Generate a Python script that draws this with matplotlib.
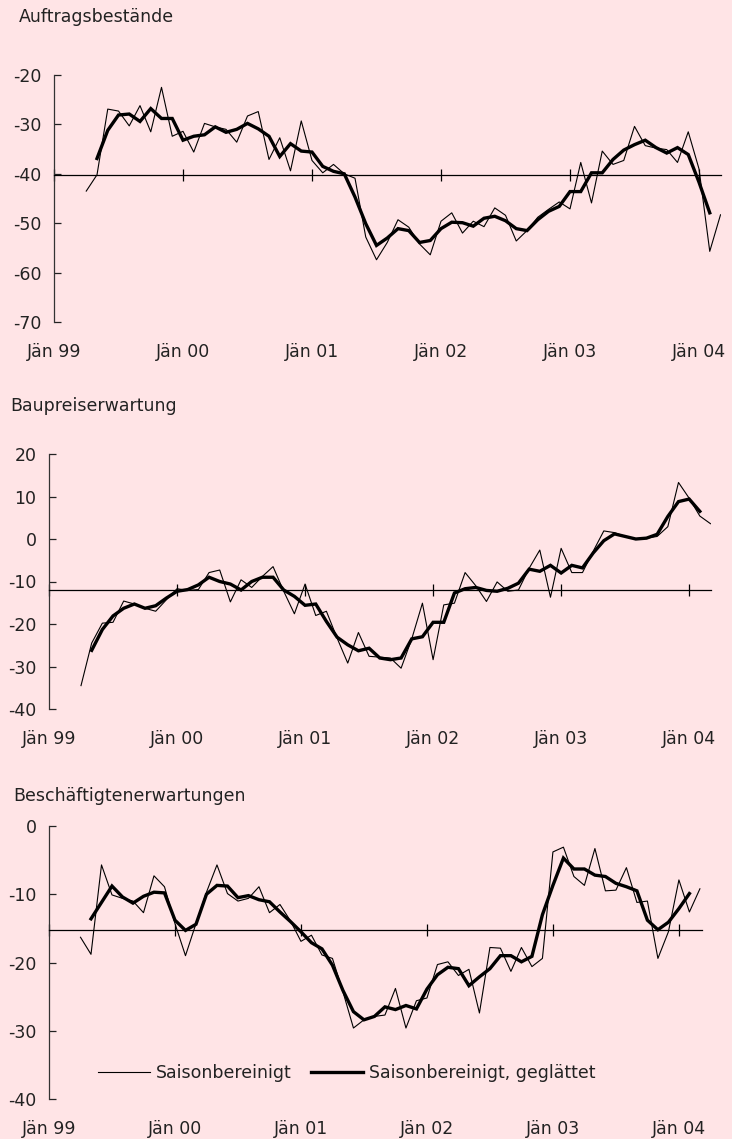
import numpy as np
import matplotlib
matplotlib.use("Agg")
from matplotlib import pyplot as plt

plt.rcParams['font.family'] = ['DejaVu Sans']
plt.rcParams['axes.unicode_minus'] = False

BG = '#FFE4E6'

# months counted from Jan 1999 (0 = Jän 99)
thin_start = 3
thick_start = 4
year_labels = ['Jän 99', 'Jän 00', 'Jän 01', 'Jän 02', 'Jän 03', 'Jän 04']

# Auftragsbestände
auftrag_sa = [-43.5, -40.2, -26.9, -27.3, -30.3, -26.2, -31.5, -22.5, -32.4, -31.4,
              -35.6, -29.8, -30.5, -31.0, -33.6, -28.3, -27.4, -37.1, -32.7, -39.4,
              -29.3, -37.3, -39.8, -38.1, -40.0, -40.9, -52.8, -57.4, -53.9, -49.3,
              -50.8, -54.2, -56.4, -49.6, -47.9, -52.0, -49.6, -50.7, -46.9, -48.4,
              -53.6, -51.5, -48.8, -47.2, -45.7, -47.1, -37.7, -45.9, -35.4, -38.1,
              -37.3, -30.4, -34.3, -34.8, -35.1, -37.7, -31.5, -39.0, -55.7, -48.3]
auftrag_sm = [-36.9, -31.2, -28.1, -27.9, -29.4, -26.8, -28.8, -28.8, -33.2, -32.4,
              -32.1, -30.5, -31.6, -31.0, -29.8, -30.9, -32.4, -36.5, -33.9, -35.4,
              -35.6, -38.5, -39.5, -40.0, -44.7, -50.1, -54.5, -53.0, -51.1, -51.5,
              -53.9, -53.5, -51.1, -49.8, -49.9, -50.6, -49.0, -48.6, -49.5, -51.1,
              -51.5, -49.3, -47.6, -46.6, -43.6, -43.6, -39.8, -39.8, -37.1, -35.2,
              -34.1, -33.2, -34.7, -35.8, -34.7, -36.1, -41.7, -47.9]

# Baupreiserwartung
preis_sa = [-34.5, -24.5, -19.8, -19.6, -14.6, -15.3, -16.3, -17.0, -14.3, -11.7,
            -12.1, -11.9, -7.9, -7.3, -14.8, -9.6, -11.4, -8.8, -6.5, -12.3,
            -17.6, -10.6, -18.0, -17.0, -23.3, -29.2, -22.0, -27.6, -27.8, -28.0,
            -30.4, -23.5, -15.1, -28.4, -15.5, -15.1, -7.9, -11.0, -14.7, -10.1,
            -12.3, -12.0, -6.9, -2.6, -13.7, -2.2, -7.9, -7.9, -2.9, 1.9,
            1.5, 0.6, 0.0, 0.2, 0.6, 2.9, 13.3, 9.6, 5.4, 3.6]
preis_sm = [-26.2, -21.3, -18.1, -16.3, -15.3, -16.3, -15.7, -13.9, -12.3, -11.9,
            -10.8, -9.0, -10.0, -10.6, -12.0, -10.0, -9.0, -9.0, -12.0, -13.5,
            -15.6, -15.3, -19.4, -23.1, -24.9, -26.3, -25.7, -28.0, -28.4, -28.0,
            -23.5, -23.0, -19.6, -19.6, -12.7, -11.7, -11.4, -12.1, -12.3, -11.6,
            -10.4, -7.1, -7.6, -6.2, -8.0, -6.2, -6.8, -3.3, -0.4, 1.2,
            0.6, 0.0, 0.2, 1.1, 5.3, 8.8, 9.4, 6.5]

# Beschäftigtenerwartungen
besch_sa = [-16.3, -18.8, -5.7, -10.1, -10.6, -11.0, -12.7, -7.3, -8.9, -14.3,
            -19.0, -14.3, -9.7, -5.7, -9.9, -11.0, -10.6, -8.9, -12.7, -11.5,
            -13.9, -16.9, -16.0, -18.9, -19.4, -24.3, -29.6, -28.4, -27.9, -27.7,
            -23.8, -29.6, -25.6, -25.2, -20.3, -19.9, -21.9, -21.0, -27.4, -17.8,
            -17.9, -21.3, -17.8, -20.6, -19.4, -3.8, -3.1, -7.4, -8.7, -3.3,
            -9.5, -9.4, -6.1, -11.2, -11.0, -19.4, -15.5, -7.9, -12.6, -9.2]
besch_sm = [-13.6, -11.2, -8.8, -10.4, -11.3, -10.3, -9.7, -9.8, -13.8, -15.3,
            -14.4, -10.0, -8.7, -8.8, -10.5, -10.2, -10.8, -11.1, -12.6, -14.0,
            -15.5, -17.1, -18.0, -20.4, -24.1, -27.2, -28.4, -27.9, -26.5, -26.9,
            -26.3, -26.8, -23.9, -21.8, -20.7, -20.9, -23.4, -22.1, -20.9, -19.0,
            -19.0, -19.9, -19.1, -13.0, -8.7, -4.7, -6.3, -6.3, -7.2, -7.4,
            -8.4, -8.9, -9.5, -13.8, -15.2, -14.1, -12.1, -9.9]

# long-term average lines (x axis crosses here)
cross = [-40.3, -11.9, -15.3]


def px(x, y, w, h):
    W, H = 732., 1139.
    return [x / W, 1 - (y + h) / H, w / W, h / H]


def draw_panel(ax, sa, sm, cross_val, ylim, yticks, xmax):
    ax.set_facecolor(BG)
    m_sa = np.arange(thin_start, thin_start + len(sa))
    m_sm = np.arange(thick_start, thick_start + len(sm))
    l1, = ax.plot(m_sa, sa, color='black', lw=0.8)
    l2, = ax.plot(m_sm, sm, color='black', lw=2.4, solid_joinstyle='miter')

    ax.set_xlim(0, xmax)
    ax.set_ylim(*ylim)
    ax.set_yticks(yticks)
    ax.set_yticklabels([f'{v:d}' for v in yticks])

    for s in ['top', 'right']:
        ax.spines[s].set_visible(False)
    ax.spines['left'].set_linewidth(0.9)
    ax.spines['left'].set_color('#333333')
    ax.spines['bottom'].set_position(('data', cross_val))
    ax.spines['bottom'].set_linewidth(0.9)

    jan = np.arange(0, 12 * len(year_labels), 12)
    ax.set_xticks(jan)
    ax.tick_params(axis='x', direction='inout', length=9, width=0.9,
                   labelbottom=False)
    ax.tick_params(axis='y', direction='in', length=5, width=0.9, pad=9,
                   labelsize=12.5, colors='#222222')
    for m, lab in zip(jan, year_labels):
        ax.annotate(lab, xy=(m, 0), xycoords=('data', 'axes fraction'),
                    xytext=(0, -30), textcoords='offset pixels',
                    ha='center', va='center', fontsize=12.5, color='#222222')
    return l1, l2


fig = plt.figure(figsize=(7.32, 11.39), dpi=100)
fig.patch.set_facecolor(BG)

ax1 = fig.add_axes(px(54, 75, 666.5, 247))
draw_panel(ax1, auftrag_sa, auftrag_sm, cross[0], (-70, -20),
           list(range(-70, -19, 10)), 62)
fig.text(19 / 732, 1 - 17 / 1139, 'Auftragsbestände', fontsize=12.5,
         va='center', ha='left', color='#222222')

ax2 = fig.add_axes(px(49, 454, 661.5, 255))
draw_panel(ax2, preis_sa, preis_sm, cross[1], (-40, 20),
           list(range(-40, 21, 10)), 62)
fig.text(10 / 732, 1 - 406 / 1139, 'Baupreiserwartung', fontsize=12.5,
         va='center', ha='left', color='#222222')

ax3 = fig.add_axes(px(49, 826, 653, 273))
l1, l2 = draw_panel(ax3, besch_sa, besch_sm, cross[2], (-40, 0),
                    list(range(-40, 1, 10)), 62.2)
fig.text(13 / 732, 1 - 796 / 1139, 'Beschäftigtenerwartungen', fontsize=12.5,
         va='center', ha='left', color='#222222')

fig.legend([l1, l2], ['Saisonbereinigt', 'Saisonbereinigt, geglättet'],
           loc='center', bbox_to_anchor=(347 / 732, 1 - 1073 / 1139),
           ncol=2, frameon=False, fontsize=12.5, handlelength=3.0,
           handletextpad=0.35, columnspacing=1.1, labelcolor='#222222')

fig.savefig('out.png', dpi=100, facecolor=BG)
